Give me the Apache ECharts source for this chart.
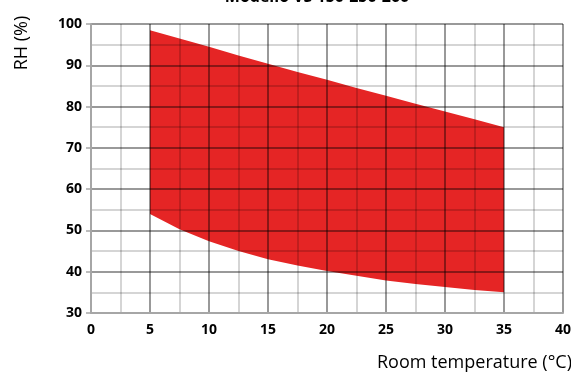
<!DOCTYPE html>
<html><head><meta charset="utf-8">
<script src="https://cdn.jsdelivr.net/npm/echarts@6/dist/echarts.min.js"></script>
<style>html,body{margin:0;padding:0;background:#fff}#c{width:571px;height:374px}</style>
</head><body><div id="c"></div>
<script>
const titleText = 'Modello VS 150-250-260';
const xAxisName = 'Room temperature (°C)';
const yAxisName = 'RH (%)';
const temps = [5, 7.5, 10, 12.5, 15, 17.5, 20, 22.5, 25, 27.5, 30, 32.5, 35];
const rhUpper = [98.5, 96.5, 94.5, 92.4, 90.4, 88.4, 86.5, 84.5, 82.6, 80.7, 78.8, 76.9, 75];
const rhLower = [54, 50.3, 47.4, 45, 43, 41.5, 40.2, 39, 37.9, 37, 36.3, 35.6, 35];
const xTicks = [0, 5, 10, 15, 20, 25, 30, 35, 40];
const yTicks = [30, 40, 50, 60, 70, 80, 90, 100];

const chart = echarts.init(document.getElementById('c'), null, {renderer: 'canvas'});
const lab = {fontFamily: 'Open Sans', fontWeight: 'bold', fontSize: 14, color: '#000'};
const splitMajor = {show: true, lineStyle: {color: 'rgba(0,0,0,0.40)', width: 2}};
const splitMinor = {show: true, lineStyle: {color: 'rgba(0,0,0,0.22)', width: 1.5}};
chart.setOption({
  animation: false,
  title: {text: titleText, left: 312, textAlign: 'center', top: -16,
    textStyle: {fontFamily: 'Open Sans', fontWeight: 'bold', fontSize: 16, color: '#000'}},
  grid: {left: 91, right: 8, top: 24, bottom: 61, containLabel: false, outerBoundsMode: 'none'},
  graphic: [
    {type: 'text', x: 22, y: 43, rotation: Math.PI / 2,
      style: {text: yAxisName, fontFamily: 'Open Sans', fontSize: 18, fill: '#000', align: 'center', verticalAlign: 'middle'}},
    {type: 'text', x: 572, y: 363,
      style: {text: xAxisName, fontFamily: 'Open Sans', fontSize: 18, fill: '#000', align: 'right', verticalAlign: 'middle'}}
  ],
  xAxis: {type: 'value', min: xTicks[0], max: xTicks[xTicks.length - 1], interval: 5, z: 5,
    axisLine: {lineStyle: {color: '#a6a6a6', width: 2}},
    axisTick: {show: false},
    axisLabel: Object.assign({margin: 10}, lab),
    splitLine: splitMajor,
    minorTick: {show: true, splitNumber: 2, length: 0},
    minorSplitLine: splitMinor
  },
  yAxis: {type: 'value', min: yTicks[0], max: yTicks[yTicks.length - 1], interval: 10, z: 5,
    axisLine: {show: true, lineStyle: {color: '#a6a6a6', width: 2}},
    axisTick: {show: true, length: 5, lineStyle: {color: '#a6a6a6', width: 1.5}},
    axisLabel: Object.assign({margin: 9}, lab),
    splitLine: splitMajor,
    minorTick: {show: true, splitNumber: 2, length: 0},
    minorSplitLine: splitMinor
  },
  series: [{
    type: 'custom', z: 1,
    data: temps.map((t, i) => [t, rhLower[i], rhUpper[i]]),
    renderItem: function (params, api) {
      if (params.dataIndex !== 0) return null;
      const pts = [];
      for (let i = 0; i < temps.length; i++) pts.push(api.coord([temps[i], rhUpper[i]]));
      for (let i = temps.length - 1; i >= 0; i--) pts.push(api.coord([temps[i], rhLower[i]]));
      return {type: 'polygon', shape: {points: pts}, style: {fill: '#e52525'}};
    }
  }]
});
</script></body></html>
